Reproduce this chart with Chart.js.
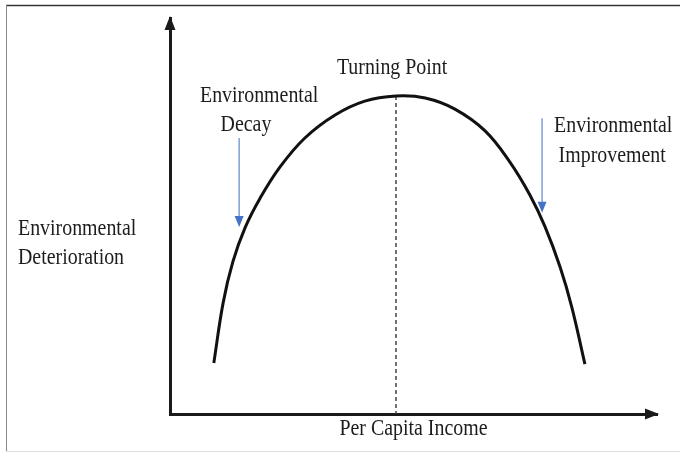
<!DOCTYPE html>
<html lang="en">
<head>
    <meta charset="UTF-8">
    <title>Environmental Kuznets Curve</title>
    <script src="https://cdn.jsdelivr.net/npm/chart.js"></script>
    <style>
        body { margin: 0; background: #fff; }
        #wrap { position: relative; width: 680px; height: 453px; }
    </style>
</head>
<body>
    <div id="wrap"><canvas id="ekc"></canvas></div>

    <script>
        // curve (income, deterioration), both 0..100
        const curveX = [9.0, 10.9, 12.9, 15.4, 18.5, 22.6, 27.7, 33.9, 40.0, 46.4,
                        52.4, 58.5, 64.7, 69.8, 73.9, 77.0, 80.1, 82.5, 85.2];
        const curveY = [12.9, 28.0, 38.4, 47.0, 54.5, 62.4, 69.7, 75.5, 79.0, 80.3,
                        79.8, 77.0, 71.5, 63.6, 55.3, 47.3, 37.1, 27.0, 12.6];

        const turningX = 46.4;
        const turningY = 80.3;

        // blue arrows: [x, top, tip]
        const decayArrow = [14.2, 69.7, 47.2];
        const improveArrow = [76.4, 74.7, 50.8];

        const curvePoints = curveX.map((x, i) => ({ x: x, y: curveY[i] }));

        const serif = '"Liberation Serif", "Times New Roman", serif';

        function condensedText(ctx, text, x, y, align) {
            ctx.save();
            ctx.translate(x, y);
            ctx.scale(0.865, 1);
            ctx.font = '23px ' + serif;
            ctx.fillStyle = '#1c1c1c';
            ctx.textAlign = align;
            ctx.textBaseline = 'alphabetic';
            ctx.fillText(text, 0, 0);
            ctx.restore();
        }

        const decorPlugin = {
            id: 'decor',
            beforeDraw(chart) {
                const ctx = chart.ctx;
                ctx.save();
                ctx.fillStyle = '#fff';
                ctx.fillRect(0, 0, chart.width, chart.height);
                // picture frame
                ctx.lineWidth = 1.5;
                ctx.strokeStyle = '#333';
                ctx.beginPath(); ctx.moveTo(6, 5.5); ctx.lineTo(680, 5.5); ctx.stroke();
                ctx.lineWidth = 1;
                ctx.strokeStyle = '#888';
                ctx.beginPath(); ctx.moveTo(6.5, 5); ctx.lineTo(6.5, 452); ctx.stroke();
                ctx.strokeStyle = '#ddd';
                ctx.beginPath(); ctx.moveTo(6, 451.5); ctx.lineTo(680, 451.5); ctx.stroke();
                ctx.restore();
            },
            afterDraw(chart) {
                const ctx = chart.ctx;
                const xs = chart.scales.x, ys = chart.scales.y;
                const a = chart.chartArea;

                ctx.save();
                ctx.fillStyle = '#1a1a1a';
                // y axis arrowhead
                ctx.beginPath();
                ctx.moveTo(a.left, a.top - 2);
                ctx.lineTo(a.left - 5.5, a.top + 12);
                ctx.lineTo(a.left + 5.5, a.top + 12);
                ctx.closePath();
                ctx.fill();
                // x axis arrowhead
                ctx.beginPath();
                ctx.moveTo(a.right + 2, a.bottom);
                ctx.lineTo(a.right - 12, a.bottom - 5.5);
                ctx.lineTo(a.right - 12, a.bottom + 5.5);
                ctx.closePath();
                ctx.fill();

                // blue arrowheads
                ctx.fillStyle = '#4472c4';
                [decayArrow, improveArrow].forEach(arr => {
                    const px = xs.getPixelForValue(arr[0]);
                    const tip = ys.getPixelForValue(arr[2]);
                    ctx.beginPath();
                    ctx.moveTo(px, tip);
                    ctx.lineTo(px - 4.5, tip - 11);
                    ctx.lineTo(px + 4.5, tip - 11);
                    ctx.closePath();
                    ctx.fill();
                });
                ctx.restore();

                // labels
                const P = (x, y) => [xs.getPixelForValue(x), ys.getPixelForValue(y)];
                let p = P(45.6, 85.9);
                condensedText(ctx, 'Turning Point', p[0], p[1], 'center');
                p = P(18.3, 78.8);
                condensedText(ctx, 'Environmental', p[0], p[1], 'center');
                p = P(15.6, 71.5);
                condensedText(ctx, 'Decay', p[0], p[1], 'center');
                p = P(91.0, 71.2);
                condensedText(ctx, 'Environmental', p[0], p[1], 'center');
                p = P(90.8, 63.6);
                condensedText(ctx, 'Improvement', p[0], p[1], 'center');

                // axis titles
                condensedText(ctx, 'Environmental', 18, 235, 'left');
                condensedText(ctx, 'Deterioration', 18, 264, 'left');
                condensedText(ctx, 'Per Capita Income', (a.left + a.right) / 2, 435, 'center');
            }
        };

        const ctx = document.getElementById('ekc').getContext('2d');
        new Chart(ctx, {
            type: 'scatter',
            data: {
                datasets: [
                    {
                        data: curvePoints,
                        showLine: true,
                        borderColor: '#111',
                        borderWidth: 3,
                        pointRadius: 0,
                        tension: 0.4
                    },
                    {
                        data: [{ x: turningX, y: turningY }, { x: turningX, y: 0 }],
                        showLine: true,
                        borderColor: '#444',
                        borderWidth: 1.5,
                        borderDash: [4, 3],
                        pointRadius: 0
                    },
                    {
                        data: [{ x: decayArrow[0], y: decayArrow[1] }, { x: decayArrow[0], y: decayArrow[2] + 2.5 }],
                        showLine: true,
                        borderColor: '#7f9fd4',
                        borderWidth: 1.5,
                        pointRadius: 0
                    },
                    {
                        data: [{ x: improveArrow[0], y: improveArrow[1] }, { x: improveArrow[0], y: improveArrow[2] + 2.5 }],
                        showLine: true,
                        borderColor: '#7f9fd4',
                        borderWidth: 1.5,
                        pointRadius: 0
                    }
                ]
            },
            options: {
                responsive: true,
                maintainAspectRatio: false,
                animation: false,
                layout: { padding: { left: 170, right: 23, top: 18, bottom: 39 } },
                plugins: { legend: { display: false }, tooltip: { enabled: false } },
                scales: {
                    x: {
                        type: 'linear', min: 0, max: 100,
                        grid: { display: false, drawTicks: false },
                        ticks: { display: false },
                        border: { display: true, color: '#1a1a1a', width: 3 }
                    },
                    y: {
                        type: 'linear', min: 0, max: 100,
                        grid: { display: false, drawTicks: false },
                        ticks: { display: false },
                        border: { display: true, color: '#1a1a1a', width: 3 }
                    }
                }
            },
            plugins: [decorPlugin]
        });
    </script>
</body>
</html>
